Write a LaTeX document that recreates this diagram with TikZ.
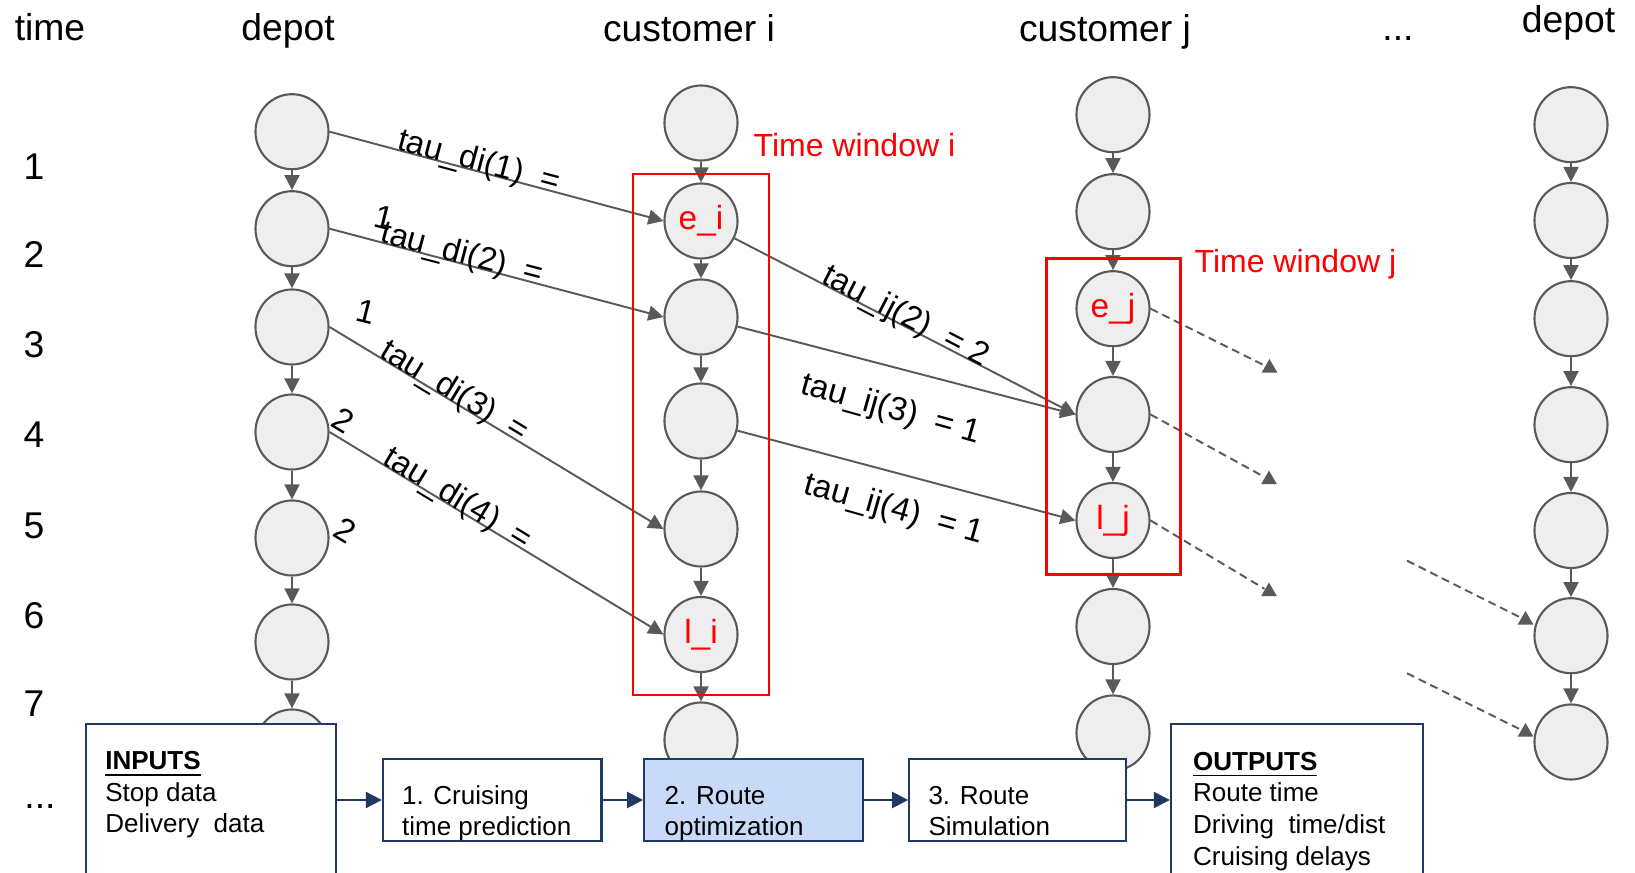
\documentclass[tikz,border=0pt]{standalone}
\usepackage{fontspec}
\setmainfont{Liberation Sans}
\usetikzlibrary{arrows.meta,shapes.geometric}
\definecolor{edgegray}{RGB}{89,89,89}
\definecolor{slotgray}{RGB}{238,238,238}
\definecolor{flowblue}{RGB}{31,56,100}
\definecolor{stagefill}{RGB}{201,218,248}
\tikzset{
	slot/.style={ellipse, draw=edgegray, fill=slotgray, line width=0.6pt, minimum width=0.73cm, minimum height=0.75cm, inner sep=0pt, text=red, font=\fontsize{9.5}{11}\selectfont},
	move/.style={draw=edgegray, line width=0.55pt, -{Triangle[length=0.15cm,width=0.15cm]}},
	later/.style={draw=edgegray, line width=0.55pt, dash pattern=on 0.08cm off 0.05cm},
	headtri/.style={regular polygon, regular polygon sides=3, fill=edgegray, inner sep=0pt, minimum size=0.18cm},
	taulab/.style={font=\fontsize{9.3}{11}\selectfont, sloped, anchor=base, inner sep=0pt},
	taufree/.style={font=\fontsize{9.4}{11}\selectfont, inner sep=0pt},
	window/.style={draw=red, line width=0.7pt},
	winlab/.style={text=red, font=\fontsize{9.1}{11}\selectfont, anchor=base west, inner sep=0pt},
	colhead/.style={font=\fontsize{10.6}{12}\selectfont, anchor=base, inner sep=0pt},
	stagebox/.style={draw=flowblue, line width=0.6pt, fill=white, minimum height=0.82cm, inner sep=0pt},
	boxtext/.style={font=\fontsize{7.4}{9}\selectfont, align=left, anchor=base west, inner sep=0pt},
	flow/.style={draw=flowblue, line width=0.6pt, -{Triangle[length=0.16cm,width=0.16cm]}}
}

\begin{document}
\begin{tikzpicture}[x=0.01cm, y=-0.01cm]
			%%%%% START %%%%%
			\useasboundingbox (0,0) rectangle (1635,873);
			
			\node[colhead] (htime) at (50,40.5) {time};
			\node[colhead] (hdepot) at (288,40.7) {depot};
			\node[colhead] (hci) at (689,41.7) {customer i};
			\node[colhead] (hcj) at (1105,41.7) {customer j};
			\node[colhead] (hdots) at (1398,40.7) {...};
			\node[colhead] (hdepotb) at (1568.5,32.3) {depot};
			
			\node[colhead] (r1) at (34,180) {1};
			\node[colhead] (r2) at (34,268) {2};
			\node[colhead] (r3) at (34,358) {3};
			\node[colhead] (r4) at (34,448) {4};
			\node[colhead] (r5) at (34,538) {5};
			\node[colhead] (r6) at (34,629) {6};
			\node[colhead] (r7) at (34,717) {7};
			\node[colhead] (r8) at (40,808) {...};
			
			% depot
			\node[slot] (d1) at (292,131.7) {};
			\node[slot] (d2) at (292,228.7) {};
			\node[slot] (d3) at (292,327) {};
			\node[slot] (d4) at (292,432) {};
			\node[slot] (d5) at (292,538) {};
			\node[slot] (d6) at (292,642) {};
			\node[slot] (d7) at (292,747) {};
			\draw[move] (d1) -- (d2);
			\draw[move] (d2) -- (d3);
			\draw[move] (d3) -- (d4);
			\draw[move] (d4) -- (d5);
			\draw[move] (d5) -- (d6);
			\draw[move] (d6) -- (d7);
			
			% customer i
			\node[slot] (ci1) at (701,123) {};
			\node[slot] (ci2) at (701,221) {e\_i};
			\node[slot] (ci3) at (701,317) {};
			\node[slot] (ci4) at (701,421) {};
			\node[slot] (ci5) at (701,529) {};
			\node[slot] (ci6) at (701,634.5) {l\_i};
			\node[slot] (ci7) at (701,740) {};
			\draw[move] (ci1) -- (ci2);
			\draw[move] (ci2) -- (ci3);
			\draw[move] (ci3) -- (ci4);
			\draw[move] (ci4) -- (ci5);
			\draw[move] (ci5) -- (ci6);
			\draw[move] (ci6) -- (ci7);
			
			% customer j
			\node[slot] (cj1) at (1113,114.7) {};
			\node[slot] (cj2) at (1113,211.7) {};
			\node[slot] (cj3) at (1113,308.7) {e\_j};
			\node[slot] (cj4) at (1113,414.5) {};
			\node[slot] (cj5) at (1113,520.5) {l\_j};
			\node[slot] (cj6) at (1113,626.5) {};
			\node[slot] (cj7) at (1113,733) {};
			\draw[move] (cj1) -- (cj2);
			\draw[move] (cj2) -- (cj3);
			\draw[move] (cj3) -- (cj4);
			\draw[move] (cj4) -- (cj5);
			\draw[move] (cj5) -- (cj6);
			\draw[move] (cj6) -- (cj7);
			
			% depot (end)
			\node[slot] (e1) at (1571,124.7) {};
			\node[slot] (e2) at (1571,220.5) {};
			\node[slot] (e3) at (1571,318.7) {};
			\node[slot] (e4) at (1571,424.7) {};
			\node[slot] (e5) at (1571,530.5) {};
			\node[slot] (e6) at (1571,635.7) {};
			\node[slot] (e7) at (1571,742) {};
			\draw[move] (e1) -- (e2);
			\draw[move] (e2) -- (e3);
			\draw[move] (e3) -- (e4);
			\draw[move] (e4) -- (e5);
			\draw[move] (e5) -- (e6);
			\draw[move] (e6) -- (e7);
			
			% depot -> customer i
			\draw[move] (d1.east) -- node[taulab, pos=0.44] (t1) {tau\_di(1)~~=} (ci2.west);
			\draw[move] (d2.east) -- node[taulab, pos=0.39] (t2) {tau\_di(2)~~=} (ci3.west);
			\draw[move] (d3.east) -- node[taulab, pos=0.36] (t3) {tau\_di(3)~~=} (ci5.west);
			\draw[move] (d4.east) -- node[taulab, pos=0.37] (t4) {tau\_di(4)~~=} (ci6.west);
			\node[taufree, rotate=-14] (n1) at (384,218) {1};
			\node[taufree, rotate=-14] (n2) at (366,312) {1};
			\node[taufree, rotate=-31] (n3) at (343,420) {2};
			\node[taufree, rotate=-31] (n4) at (345,530) {2};
			
			% customer i -> customer j
			\draw[move] (ci2) -- node[taulab, pos=0.49] (t5) {tau\_ij(2)~~= 2} (cj4.west);
			\draw[move] (ci3) -- (cj4.west);
			\draw[move] (ci4) -- (cj5.west);
			\node[taufree, rotate=-15.6] (t6) at (891,410) {tau\_ij(3)~~= 1};
			\node[taufree, rotate=-15.6] (t7) at (894,510) {tau\_ij(4)~~= 1};
			
			% onward
			\node[headtri] (a1) at (1269.5,368) {};
			\node[headtri] (a2) at (1269,479.5) {};
			\node[headtri] (a3) at (1269,591.5) {};
			\node[headtri] (a4) at (1525.5,620) {};
			\node[headtri] (a5) at (1525.5,732) {};
			\coordinate (s4) at (1407,560.7);
			\coordinate (s5) at (1407,673.3);
			\draw[later] (cj3.east) -- (a1);
			\draw[later] (cj4.east) -- (a2);
			\draw[later] (cj5.east) -- (a3);
			\draw[later] (s4) -- (a4);
			\draw[later] (s5) -- (a5);
			
			% time windows
			\draw[window] (633,174) rectangle (769,695);
			\draw[window] (1046.5,258.3) rectangle (1180.7,574.3);
			\node[winlab] (wi) at (753,156.7) {Time window i};
			\node[winlab] (wj) at (1194,273) {Time window j};
			
			% pipeline
			\node[stagebox, minimum width=2.5cm, minimum height=1.76cm] (inputs) at (211.3,812) {};
			\node[stagebox, minimum width=2.185cm] (cruise) at (492.2,800) {};
			\node[stagebox, fill=stagefill, minimum width=2.19cm] (optim) at (753.8,800) {};
			\node[stagebox, minimum width=2.17cm] (simul) at (1017.8,800) {};
			\node[stagebox, minimum width=2.52cm, minimum height=1.76cm] (outputs) at (1297,812) {};
			\node[boxtext] (intxt) at (104.6,833) {\underline{\textbf{INPUTS}}\\Stop data\\Delivery~~data};
			\node[boxtext] (cruisetxt) at (401.4,835.7) {1. Cruising\\time prediction};
			\node[boxtext] (optimtxt) at (664,835.7) {2. Route\\optimization};
			\node[boxtext] (simultxt) at (927.8,835.7) {3. Route\\Simulation};
			\node[boxtext] (outtxt) at (1192.4,865) {\underline{\textbf{OUTPUTS}}\\Route time\\Driving~~time/dist\\Cruising delays};
			\draw[flow] (inputs.east |- cruise.west) -- (cruise.west);
			\draw[flow] (cruise) -- (optim);
			\draw[flow] (optim) -- (simul);
			\draw[flow] (simul.east) -- (outputs.west |- simul.east);
			
			%%%%% END %%%%%
\end{tikzpicture}
\end{document}
